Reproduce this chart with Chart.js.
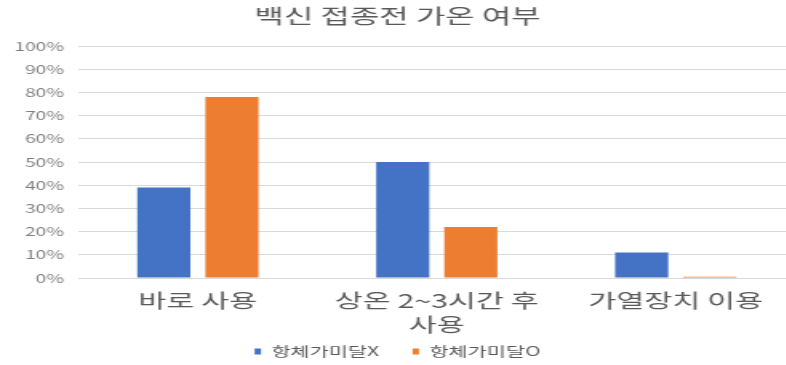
<!DOCTYPE html>
<html>
<head>
<meta charset="utf-8">
<script src="https://cdn.jsdelivr.net/npm/chart.js@4"></script>
<style>
  html,body{margin:0;padding:0;background:#fff;overflow:hidden;}
  /* the source picture is stretched sideways, so the canvas is drawn narrow and widened */
  #wrap{position:relative;width:509px;height:365px;transform:scaleX(1.6);transform-origin:0 0;}
</style>
</head>
<body>
<div id="wrap"><canvas id="c"></canvas></div>
<script>
// data
const categories = ['바로 사용', ['상온 2~3시간 후', '사용'], '가열장치 이용'];
const seriesNames = ['항체가미달X', '항체가미달O'];
const noAntibody = [39, 50, 11];
const withAntibody = [78, 22, 0.5];
const titleText = '백신 접종전 가온 여부';

const font = "'Noto Sans CJK KR', 'Noto Sans', sans-serif";

// let the two-line category label run past the x axis box without clipping
const labelRoom = {
  id: 'labelRoom',
  afterLayout: c => { c.scales.x.bottom = c.height; }
};

new Chart(document.getElementById('c'), {
  type: 'bar',
  data: {
    labels: categories,
    datasets: [
      { label: seriesNames[0], data: noAntibody, backgroundColor: '#4472C4' },
      { label: seriesNames[1], data: withAntibody, backgroundColor: '#ED7D31' }
    ]
  },
  plugins: [labelRoom],
  options: {
    responsive: true, maintainAspectRatio: false, animation: false,
    categoryPercentage: 0.57, barPercentage: 0.78,
    layout: { padding: { left: 0, right: 12, top: 4, bottom: -3 } },
    plugins: {
      title: { display: true, text: titleText, color: '#595959',
        font: { family: font, size: 20, weight: 'normal' }, padding: { top: 0, bottom: 18 } },
      legend: { position: 'bottom',
        labels: { color: '#595959', font: { family: font, size: 13 }, boxWidth: 4, boxHeight: 6, padding: 21 } },
      tooltip: { enabled: false }
    },
    scales: {
      x: {
        grid: { display: false },
        border: { color: '#d9d9d9' },
        ticks: { color: '#595959', font: { family: font, size: 19, lineHeight: 1.3 }, maxRotation: 0, padding: 2 },
        afterFit: axis => { axis.height = 46; }
      },
      y: {
        min: 0, max: 100,
        grid: { color: '#d9d9d9', drawTicks: false },
        border: { display: false },
        ticks: { stepSize: 10, color: '#7f7f7f', font: { family: font, size: 12 }, padding: 9,
          callback: v => v + '%' }
      }
    }
  }
});
</script>
</body>
</html>
